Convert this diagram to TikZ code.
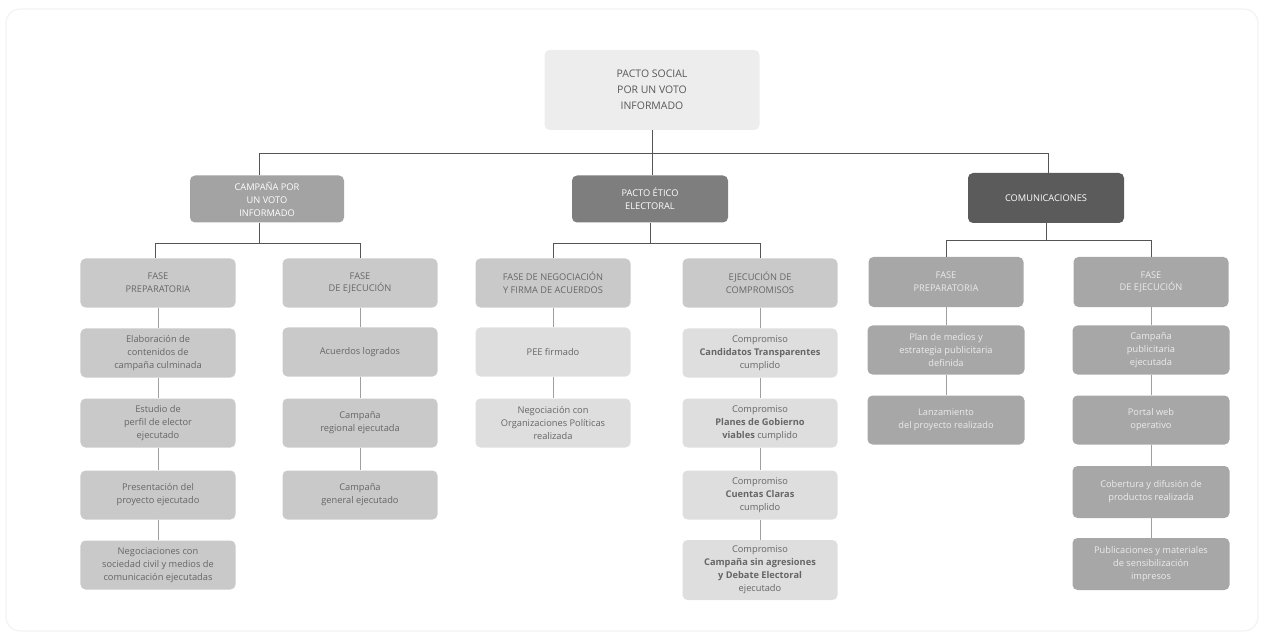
\documentclass[tikz,border=0pt]{standalone}
\usepackage{fontspec}
\setmainfont{Open Sans}
\definecolor{topfill}{HTML}{EDEDED}
\definecolor{campfill}{HTML}{A3A3A3}
\definecolor{pactfill}{HTML}{7E7E7E}
\definecolor{comfill}{HTML}{5B5B5B}
\definecolor{midfill}{HTML}{C9C9C9}
\definecolor{lightfill}{HTML}{DEDEDE}
\definecolor{darkfill}{HTML}{A7A7A7}
\definecolor{inktext}{HTML}{666666}
\definecolor{linegray}{HTML}{555555}
\begin{document}
\begin{tikzpicture}[x=1bp,y=-1bp,
	box/.style={rounded corners=5bp,align=center,inner sep=2bp,minimum width=155bp,minimum height=49bp,font=\fontsize{9.3}{13}\selectfont},
	head/.style={box,minimum width=147bp,minimum height=47bp,text=white},
	gbox/.style={box,fill=midfill,text=inktext},
	lbox/.style={box,fill=lightfill,text=inktext},
	dbox/.style={box,fill=darkfill,text=white!92!black},
	bus/.style={draw=linegray,line width=0.9bp},
	link/.style={draw=gray!75,line width=0.9bp}]
	\useasboundingbox (0,0) rectangle (1264,637);
	\draw[gray!10,line width=1.2bp,rounded corners=14bp] (6,9) rectangle (1258,631);
	% top
	\node[box,fill=topfill,text=inktext!85!black,minimum width=215bp,minimum height=80bp,font=\fontsize{10.5}{16}\selectfont] (top) at (652,90) {PACTO SOCIAL\\POR UN VOTO\\INFORMADO};
	\node[head,fill=campfill,minimum width=154bp] (c1) at (267,199) {CAMPAÑA POR\\UN VOTO\\INFORMADO};
	\node[head,fill=pactfill,minimum width=156bp] (c2) at (650,199) {PACTO ÉTICO\\ELECTORAL};
	\node[head,fill=comfill,minimum width=156bp,minimum height=50bp] (c3) at (1046,198) {COMUNICACIONES};
	\coordinate (j1) at (259,153);
	\coordinate (j3) at (1048,153);
	\draw[bus] (top.south) -- (top.south |- c2.north);
	\draw[bus] (c1.north -| j1) -- (j1) -- (j3) -- (c3.north -| j3);
	% fases
	\node[gbox] (p1) at (158,283) {FASE\\PREPARATORIA};
	\node[gbox] (p2) at (360,283) {FASE\\DE EJECUCIÓN};
	\node[gbox] (p3) at (553,283) {FASE DE NEGOCIACIÓN\\Y FIRMA DE ACUERDOS};
	\node[gbox] (p4) at (760,283) {EJECUCIÓN DE\\COMPROMISOS};
	\node[dbox,minimum height=50bp] (p5) at (946,282) {FASE\\PREPARATORIA};
	\node[dbox,minimum height=50bp] (p6) at (1151,282) {FASE\\DE EJECUCIÓN};
	\draw[bus] (c1.south -| j1) -- ++(0,21) -| (p1.north -| 155,0);
	\draw[bus] (c1.south -| j1) ++(0,21) -| (p2);
	\draw[bus] (c2) -- ++(0,44) -| (p3);
	\draw[bus] (c2) ++(0,44) -| (p4);
	\draw[bus] (c3) -- ++(0,42) -| (p5);
	\draw[bus] (c3) ++(0,42) -| (p6);
	% campaña
	\node[gbox] (a1) at (158,353) {Elaboración de\\contenidos de\\campaña culminada};
	\node[gbox] (a2) at (158,423) {Estudio de\\perfil de elector\\ejecutado};
	\node[gbox] (a3) at (158,495) {Presentación del\\proyecto ejecutado};
	\node[gbox] (a4) at (158,565) {Negociaciones con\\sociedad civil y medios de\\comunicación ejecutadas};
	\node[gbox] (b1) at (360,352) {Acuerdos logrados};
	\node[gbox] (b2) at (360,423) {Campaña\\regional ejecutada};
	\node[gbox] (b3) at (360,495) {Campaña\\general ejecutado};
	% pacto etico
	\node[lbox] (d1) at (553,352) {PEE firmado};
	\node[lbox] (d2) at (553,423) {Negociación con\\Organizaciones Políticas\\realizada};
	\node[lbox] (e1) at (760,353) {Compromiso\\\textbf{Candidatos Transparentes}\\cumplido};
	\node[lbox] (e2) at (760,423) {Compromiso\\\textbf{Planes de Gobierno}\\\textbf{viables} cumplido};
	\node[lbox] (e3) at (760,495) {Compromiso\\\textbf{Cuentas Claras}\\cumplido};
	\node[lbox,minimum height=60bp] (e4) at (760,570) {Compromiso\\\textbf{Campaña sin agresiones}\\\textbf{y Debate Electoral}\\ejecutado};
	% comunicaciones
	\node[dbox,minimum width=157bp] (f1) at (946,350) {Plan de medios y\\estrategia publicitaria\\definida};
	\node[dbox,minimum width=157bp] (f2) at (946,420) {Lanzamiento\\del proyecto realizado};
	\node[dbox,minimum width=157bp] (g1) at (1151,350) {Campaña\\publicitaria\\ejecutada};
	\node[dbox,minimum width=157bp] (g2) at (1151,420) {Portal web\\operativo};
	\node[dbox,minimum width=157bp,minimum height=52bp] (g3) at (1151,492) {Cobertura y difusión de\\productos realizada};
	\node[dbox,minimum width=157bp,minimum height=52bp] (g4) at (1151,564) {Publicaciones y materiales\\de sensibilización\\impresos};
	\foreach \s/\t in {p1/a1,a1/a2,a2/a3,a3/a4,p2/b1,b1/b2,b2/b3,p3/d1,d1/d2,p4/e1,e1/e2,e2/e3,e3/e4,p5/f1,f1/f2,p6/g1,g1/g2,g2/g3,g3/g4}
		\draw[link] (\s) -- (\t);
\end{tikzpicture}
\end{document}
